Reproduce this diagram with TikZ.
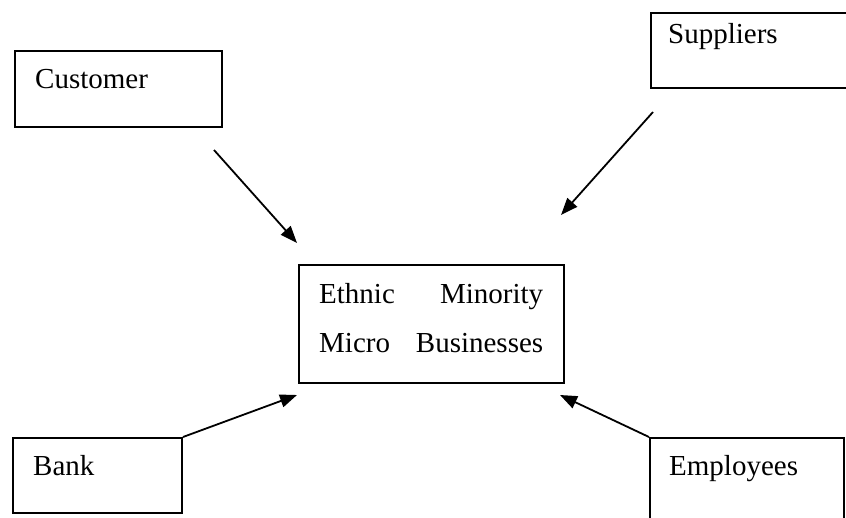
\documentclass[tikz,border=0pt]{standalone}
\usepackage{fontspec}
\setmainfont{Liberation Serif}
\usetikzlibrary{arrows.meta}
\begin{document}
\begin{tikzpicture}[x=1pt,y=-1pt,
  box/.style={draw, line width=2pt, rectangle, inner sep=0pt},
  lbl/.style={anchor=base west, inner sep=0pt, font=\fontsize{29}{35}\selectfont},
  conn/.style={line width=1.8pt, -{Triangle[length=17pt,width=13pt]}}]
\useasboundingbox (0,0) rectangle (846,517);
% boxes
\node[box, minimum width=207pt, minimum height=76pt] (cust) at (118.5,89) {};
\node[box, minimum width=219pt, minimum height=75pt] (supp) at (760.5,50.5) {};
\node[box, minimum width=265pt, minimum height=118pt] (emmb) at (431.5,324) {};
\node[box, minimum width=169pt, minimum height=75pt] (bank) at (97.5,475.5) {};
\node[box, minimum width=194pt, minimum height=102pt] (emp) at (747,489) {};
% labels
\node[lbl] (custt) at (35,88) {Customer};
\node[lbl] (suppt) at (668,43) {Suppliers};
\node[lbl] (bankt) at (33,475) {Bank};
\node[lbl] (empt) at (669,475) {Employees};
\node[lbl] (emmb1) at (319,303) {\makebox[224pt][s]{Ethnic\hfill Minority}};
\node[lbl] (emmb2) at (319,352) {\makebox[224pt][s]{Micro\hfill Businesses}};
% connector ends
\coordinate (c1) at (214,150);
\coordinate (c2) at (297,243);
\coordinate (s1) at (653,112);
\coordinate (s2) at (561,215);
\coordinate (b2) at (297,395);
\coordinate (e2) at (560,395);
% connectors
\draw[conn] (c1) -- (c2);
\draw[conn] (s1) -- (s2);
\draw[conn] (bank.north east) -- (b2);
\draw[conn] (emp.north west) -- (e2);
\end{tikzpicture}
\end{document}
